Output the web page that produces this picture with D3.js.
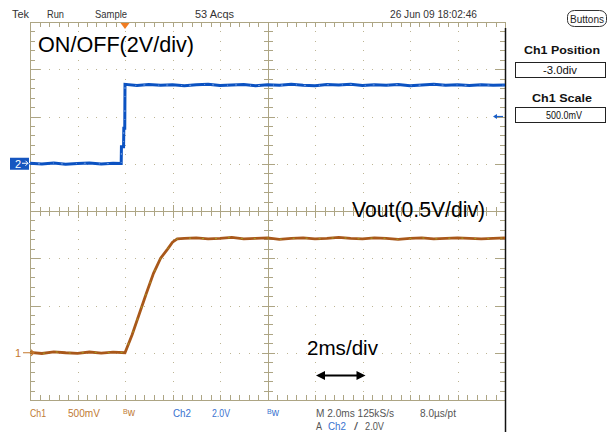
<!DOCTYPE html>
<html><head><meta charset="utf-8">
<script src="https://cdn.jsdelivr.net/npm/d3@7"></script>
<style>
html,body{margin:0;padding:0;background:#fff;}
svg{display:block;font-family:"Liberation Sans",Arial,sans-serif;}
</style></head><body>
<svg id="scope" width="609" height="432"></svg>
<script>
// Ch1: output voltage (V) versus time (ms, trigger at 0)
const ch1Time = [-4.0,-3.5,-3.0,-2.5,-2.0,-1.5,-1.0,-0.5,0.0,0.3,0.6,0.9,1.2,1.5,1.8,2.0,2.2,
  2.5,3.0,3.5,4.0,4.5,5.0,5.5,6.0,6.5,7.0,7.5,8.0,8.5,9.0,9.5,10.0,10.5,11.0,11.5,12.0,12.5,13.0,13.5,14.0,14.5,15.0,15.5,16.0];
const ch1Volt = [0.005,-0.008,0.01,0.0,-0.006,0.008,-0.004,0.006,0.0,0.19,0.41,0.63,0.84,1.0,1.10,1.17,1.205,
  1.21,1.215,1.205,1.21,1.22,1.205,1.21,1.215,1.2,1.21,1.215,1.205,1.21,1.22,1.21,1.205,1.215,1.21,1.2,1.21,1.215,1.205,1.21,1.215,1.21,1.205,1.21,1.215];

// Ch2: ON/OFF control voltage (V) versus time (ms)
const ch2Time = [-4.0,-3.5,-3.0,-2.5,-2.0,-1.5,-1.0,-0.5,-0.16,-0.15,-0.06,-0.05,-0.01,0.0,
  0.5,1.0,1.5,2.0,2.5,3.0,3.5,4.0,4.5,5.0,5.5,6.0,6.5,7.0,7.5,8.0,8.5,9.0,9.5,10.0,10.5,11.0,11.5,12.0,12.5,13.0,13.5,14.0,14.5,15.0,15.5,16.0];
const ch2Volt = [0.02,-0.01,0.03,-0.02,0.01,0.03,-0.01,0.02,0.01,0.72,0.72,1.50,1.50,3.36,
  3.31,3.35,3.32,3.34,3.30,3.34,3.36,3.31,3.33,3.35,3.30,3.34,3.32,3.36,3.32,3.30,3.35,3.33,3.36,3.31,3.34,3.32,3.35,3.30,3.33,3.36,3.32,3.34,3.31,3.34,3.32,3.33];

// acquisition settings
const timeDomain = [-4, 16];     // 10 div x 2 ms/div
const ch1Domain = [-0.5, 3.5];   // 0.5 V/div, position -3.0 div
const ch2Domain = [-10, 6];      // 2 V/div, position +1.0 div
const triggerTime = 0;
const triggerLevel = 2.0;

const topLabels = [["Tek",12,17],["Run",47,17],["Sample",95,32],["53 Acqs",195,39],["26 Jun 09 18:02:46",390,87]];

const svg = d3.select("#scope");
const L = 30, R = 505, T = 22, B = 400;

const x = d3.scaleLinear().domain(timeDomain).range([L, R]);
const y1 = d3.scaleLinear().domain(ch1Domain).range([B, T]);
const y2 = d3.scaleLinear().domain(ch2Domain).range([B, T]);
const xd = d3.scaleLinear().domain([0, 10]).range([L, R]);
const yd = d3.scaleLinear().domain([0, 8]).range([T, B]);
const px = v => Math.round(v) + 0.5;

const gridCol = "#ada584", dotCol = "#bdb594";
const g = svg.append("g").attr("shape-rendering", "crispEdges");

// dotted division lines
const xMinor = d3.range(1, 50).map(i => i / 5);
const yMinor = d3.range(1, 40).map(i => i / 5);
[1,2,3,4,6,7,8,9].forEach(k => {
  g.selectAll(null).data(yMinor).join("rect")
    .attr("x", Math.round(xd(k)) - 0.5).attr("y", d => Math.round(yd(d)) - 0.5)
    .attr("width", 1.5).attr("height", 1.5).attr("fill", dotCol);
});
[1,2,3,5,6,7].forEach(k => {
  g.selectAll(null).data(xMinor).join("rect")
    .attr("x", d => Math.round(xd(d)) - 0.5).attr("y", Math.round(yd(k)) - 0.5)
    .attr("width", 1.5).attr("height", 1.5).attr("fill", dotCol);
});

// border and centre axes
g.append("rect").attr("x", px(L)).attr("y", px(T)).attr("width", Math.round(R - L)).attr("height", Math.round(B - T))
  .attr("fill", "none").attr("stroke", gridCol);
g.append("line").attr("x1", px(xd(5))).attr("x2", px(xd(5))).attr("y1", T).attr("y2", B).attr("stroke", gridCol);
g.append("line").attr("y1", px(yd(4))).attr("y2", px(yd(4))).attr("x1", L).attr("x2", R).attr("stroke", gridCol);

// ticks on the centre axes
g.selectAll(null).data(xMinor).join("line")
  .attr("x1", d => px(xd(d))).attr("x2", d => px(xd(d)))
  .attr("y1", d => yd(4) - (Number.isInteger(d) ? 6 : 4)).attr("y2", d => yd(4) + (Number.isInteger(d) ? 7 : 5))
  .attr("stroke", gridCol);
g.selectAll(null).data(yMinor).join("line")
  .attr("y1", d => px(yd(d))).attr("y2", d => px(yd(d)))
  .attr("x1", d => xd(5) - (Number.isInteger(d) ? 6 : 4)).attr("x2", d => xd(5) + (Number.isInteger(d) ? 7 : 5))
  .attr("stroke", gridCol);

// ticks on the frame edges
g.selectAll(null).data(xMinor).join("line")
  .attr("x1", d => px(xd(d))).attr("x2", d => px(xd(d))).attr("y1", T).attr("y2", T + 5).attr("stroke", gridCol);
g.selectAll(null).data(xMinor).join("line")
  .attr("x1", d => px(xd(d))).attr("x2", d => px(xd(d))).attr("y1", B - 5).attr("y2", B).attr("stroke", gridCol);
g.selectAll(null).data(yMinor).join("line")
  .attr("y1", d => px(yd(d))).attr("y2", d => px(yd(d))).attr("x1", L).attr("x2", d => L + (Number.isInteger(d) ? 10 : 5)).attr("stroke", gridCol);
g.selectAll(null).data(yMinor).join("line")
  .attr("y1", d => px(yd(d))).attr("y2", d => px(yd(d))).attr("x1", d => R - (Number.isInteger(d) ? 10 : 5)).attr("x2", R).attr("stroke", gridCol);

// panel separator
svg.append("line").attr("x1", 505.5).attr("x2", 505.5).attr("y1", 28).attr("y2", 432).attr("stroke", "#111").attr("stroke-width", 1.5);

// traces
const ch2Line = d3.line().x((d, i) => x(ch2Time[i])).y(d => y2(d));
svg.append("path").attr("d", ch2Line(ch2Volt)).attr("fill", "none")
  .attr("stroke", "#0b52c2").attr("stroke-width", 3);
svg.append("path").attr("d", ch2Line(ch2Volt)).attr("fill", "none")
  .attr("stroke", "#6f9be0").attr("stroke-width", 1).attr("stroke-dasharray", "1 7 2 13");

const ch1Line = d3.line().x((d, i) => x(ch1Time[i])).y(d => y1(d));
svg.append("path").attr("d", ch1Line(ch1Volt)).attr("fill", "none")
  .attr("stroke", "#a9581a").attr("stroke-width", 2.8);
svg.append("path").attr("d", ch1Line(ch1Volt)).attr("fill", "none")
  .attr("stroke", "#a3a020").attr("stroke-width", 1).attr("stroke-dasharray", "2 11");

// trigger position marker
const tx = x(triggerTime);
svg.append("path").attr("d", `M${tx - 4.5},${T + 1}L${tx + 4.5},${T + 1}L${tx},${T + 7}Z`).attr("fill", "#f07c22");

// trigger level marker (right edge)
const ty = y2(triggerLevel);
svg.append("line").attr("x1", R - 10).attr("x2", R - 2).attr("y1", ty).attr("y2", ty).attr("stroke", "#1a5fc8").attr("stroke-width", 1.2);
svg.append("path").attr("d", `M${R - 12},${ty}L${R - 8},${ty - 2.5}L${R - 8},${ty + 2.5}Z`).attr("fill", "#1a5fc8");

// channel ground markers
const g2 = y2(0);
svg.append("rect").attr("x", 10).attr("y", g2 - 6).attr("width", 19).attr("height", 12).attr("fill", "#1656c0");
svg.append("text").attr("x", 15).attr("y", g2 + 4).attr("fill", "#fff").attr("font-size", 11).text("2");
svg.append("path").attr("d", `M22,${g2 - 0.5}L28,${g2 - 0.5}M25.5,${g2 - 3}L28,${g2 - 0.5}L25.5,${g2 + 2}`).attr("stroke", "#fff").attr("fill", "none");
svg.append("line").attr("x1", 29).attr("x2", 36).attr("y1", g2).attr("y2", g2).attr("stroke", "#1656c0").attr("stroke-width", 1.2);

const g1 = y1(0);
svg.append("text").attr("x", 15).attr("y", g1 + 4).attr("fill", "#c4782e").attr("font-size", 11).text("1");
svg.append("path").attr("d", `M23,${g1}L34,${g1}M31,${g1 - 3}L34,${g1}L31,${g1 + 3}`).attr("stroke", "#c4782e").attr("fill", "none").attr("stroke-width", 1.1);

// header
const hdr = svg.append("g").attr("font-size", 11).attr("fill", "#333");
topLabels.forEach(([s, lx, w]) => {
  hdr.append("text").attr("x", lx).attr("y", 18).attr("textLength", w).attr("lengthAdjust", "spacingAndGlyphs").text(s);
});
svg.append("rect").attr("x", 567.5).attr("y", 10.5).attr("width", 39).attr("height", 16).attr("rx", 7).attr("ry", 6)
  .attr("fill", "none").attr("stroke", "#333");
svg.append("text").attr("x", 570).attr("y", 23).attr("font-size", 10).attr("fill", "#222")
  .attr("textLength", 34).attr("lengthAdjust", "spacingAndGlyphs").text("Buttons");

// side panel
const side = svg.append("g").attr("fill", "#111");
side.append("text").attr("x", 524).attr("y", 54).attr("font-size", 11.5).attr("font-weight", "bold")
  .attr("textLength", 76).attr("lengthAdjust", "spacingAndGlyphs").text("Ch1 Position");
side.append("rect").attr("x", 515.5).attr("y", 62.5).attr("width", 90).attr("height", 15).attr("fill", "none").attr("stroke", "#222");
side.append("text").attr("x", 543).attr("y", 74).attr("font-size", 10.5)
  .attr("textLength", 34).attr("lengthAdjust", "spacingAndGlyphs").text("-3.0div");
side.append("text").attr("x", 532).attr("y", 102).attr("font-size", 11.5).attr("font-weight", "bold")
  .attr("textLength", 60).attr("lengthAdjust", "spacingAndGlyphs").text("Ch1 Scale");
side.append("rect").attr("x", 515.5).attr("y", 107.5).attr("width", 90).attr("height", 15).attr("fill", "none").attr("stroke", "#222");
side.append("text").attr("x", 546).attr("y", 119).attr("font-size", 10.5)
  .attr("textLength", 36).attr("lengthAdjust", "spacingAndGlyphs").text("500.0mV");

// footer readouts
const foot = svg.append("g").attr("font-size", 11);
const ft = (s, fx, fy, w, col) => foot.append("text").attr("x", fx).attr("y", fy).attr("fill", col)
  .attr("textLength", w).attr("lengthAdjust", "spacingAndGlyphs").text(s);
const c1 = "#c07a34", c2 = "#3a72cf", cm = "#555";
ft("Ch1", 30, 417, 16, c1);
ft("500mV", 68, 417, 32, c1);
const bw1 = foot.append("text").attr("x", 123).attr("y", 416).attr("fill", c1);
bw1.append("tspan").attr("font-size", 7).attr("dy", -2).text("B");
bw1.append("tspan").attr("font-size", 10).attr("dy", 2).text("w");
ft("Ch2", 173, 417, 18, c2);
ft("2.0V", 212, 417, 18, c2);
const bw2 = foot.append("text").attr("x", 267).attr("y", 416).attr("fill", c2);
bw2.append("tspan").attr("font-size", 7).attr("dy", -2).text("B");
bw2.append("tspan").attr("font-size", 10).attr("dy", 2).text("w");
ft("M 2.0ms 125kS/s", 316, 417, 78, cm);
ft("8.0µs/pt", 420, 417, 36, cm);
ft("A", 316, 430, 6, cm);
ft("Ch2", 328, 430, 18, c2);
ft("/", 354, 430, 4, cm);
ft("2.0V", 365, 430, 19, cm);

// annotations
const ann = svg.append("g").attr("fill", "#000");
ann.append("text").attr("x", 38).attr("y", 52).attr("font-size", 21.6).text("ON/OFF(2V/div)");
ann.append("text").attr("x", 352).attr("y", 217).attr("font-size", 21.2).text("Vout(0.5V/div)");
ann.append("text").attr("x", 307).attr("y", 355).attr("font-size", 20.6).text("2ms/div");

// one-division time span arrow
const ax0 = x(8) + 1, ax1 = x(10) + 3, ay = 375.5;
ann.append("line").attr("x1", ax0 + 6).attr("x2", ax1 - 6).attr("y1", ay).attr("y2", ay).attr("stroke", "#000").attr("stroke-width", 2);
ann.append("path").attr("d", `M${ax0},${ay}L${ax0 + 9},${ay - 4.5}L${ax0 + 9},${ay + 4.5}Z`);
ann.append("path").attr("d", `M${ax1},${ay}L${ax1 - 9},${ay - 4.5}L${ax1 - 9},${ay + 4.5}Z`);
</script>
</body></html>
